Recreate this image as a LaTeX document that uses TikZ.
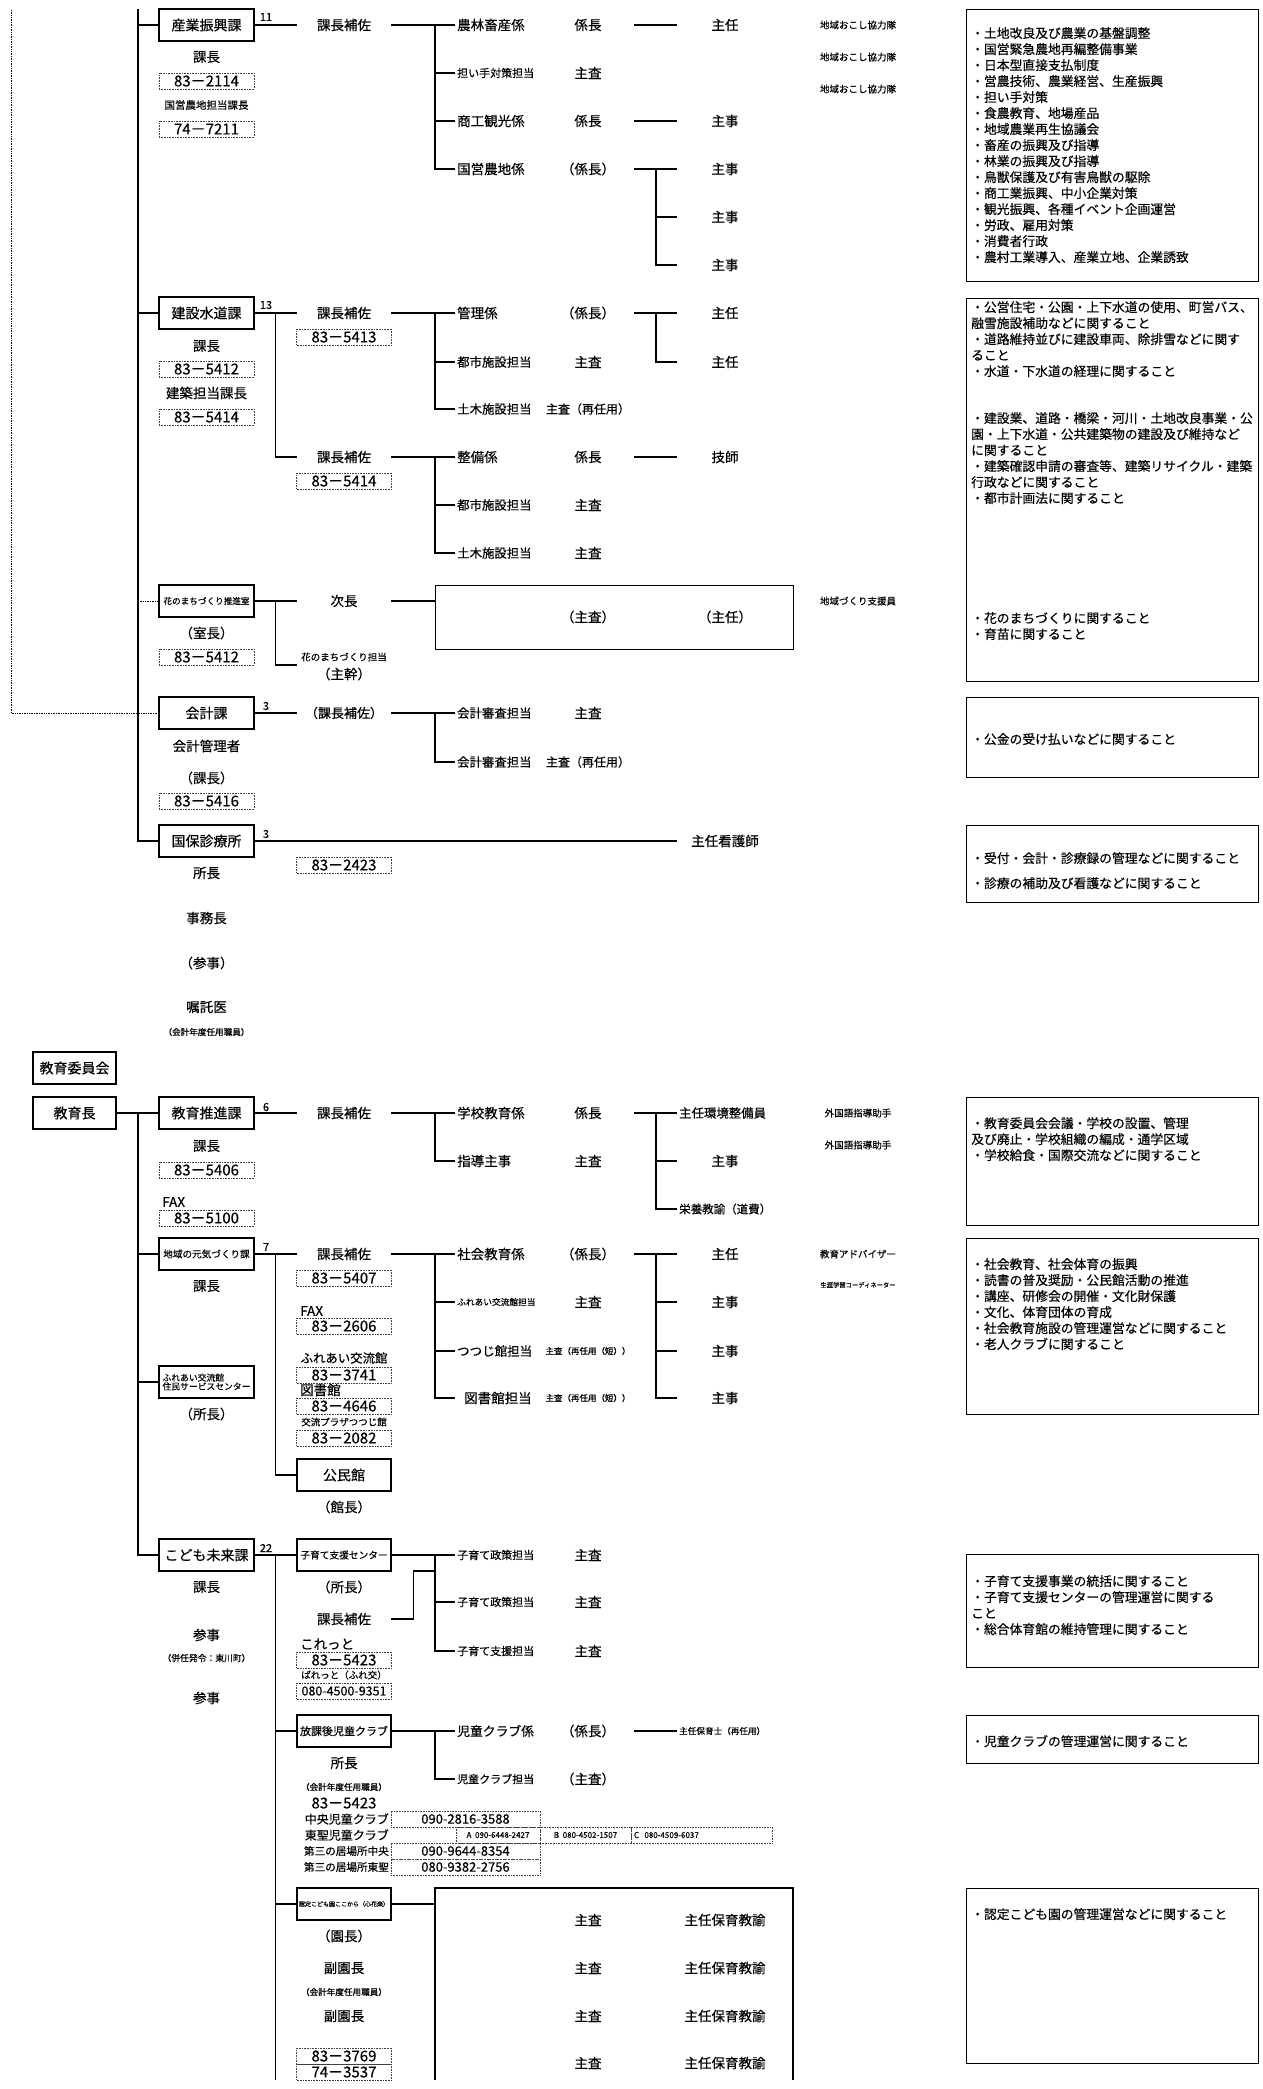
\documentclass[tikz,border=0pt]{standalone}
\usepackage{fontspec}
\setmainfont{Noto Sans CJK JP}[FakeBold=0.4]
\usetikzlibrary{positioning}
\newcommand{\fsz}[1]{\fontsize{#1}{#1}\selectfont}

\begin{document}
\begin{tikzpicture}[x=1pt, y=-1pt,
    % Node styles
    dept/.style={rectangle, draw=black, line width=1.3pt, minimum width=95pt,
                 minimum height=32pt, inner sep=1pt, font=\fsz{14}},
    postcell/.style={minimum width=94pt, minimum height=14pt, inner sep=0pt, font=\fsz{13.5}},
    tel/.style={rectangle, draw=black!75, densely dotted, line width=0.6pt,
                minimum width=95pt, minimum height=16pt, inner sep=0pt, font=\fsz{15}},
    telgrid/.style={rectangle, draw=black!75, densely dotted, line width=0.6pt,
                    minimum height=16pt, inner sep=0pt, font=\fsz{13}},
    sect/.style={anchor=west, inner sep=2pt, font=\fsz{13.5}},
    rankcell/.style={minimum width=92pt, inner sep=0pt, font=\fsz{13.5}},
    staffcell/.style={minimum width=96pt, inner sep=0pt, font=\fsz{13.5}},
    lbl/.style={inner sep=0pt, font=\fsz{13.5}},
    note/.style={inner sep=0pt, font=\fsz{9.5}},
    num/.style={inner sep=0pt, font=\fsz{11}},
    duty/.style={rectangle, draw=black, line width=1.1pt, anchor=north west, inner sep=0pt},
    dutytext/.style={anchor=north west, align=left, inner sep=0pt,
                     font=\fontsize{12.8}{16}\selectfont},
    conn/.style={line width=1.3pt},
    dotconn/.style={densely dotted, line width=0.7pt}
]
\useasboundingbox (0,0) rectangle (1263,2089);

% Trunk lines
\coordinate (topT) at (138,9);
\coordinate (topD) at (11,10);

% ---------------- 産業振興課
\node[dept] (sangyo) at (206.5,25) {産業振興課};
\node[num] (sg-num) at (266,17) {11};
\node[lbl] (sg-kacho) at (206.5,57) {課長};
\node[tel] (sg-tel1) at (206.5,81) {83－2114};
\node[note, font=\fsz{10.5}] (sg-kokuei) at (206.5,105) {国営農地担当課長};
\node[tel] (sg-tel2) at (206.5,129) {74－7211};
\node[postcell] (sg-hosa) at (344,25) {課長補佐};
\node[sect] (sg-a) at (455,25) {農林畜産係};
\node[sect, font=\fsz{11}] (sg-b) at (455,73) {担い手対策担当};
\node[sect] (sg-c) at (455,121) {商工観光係};
\node[sect] (sg-d) at (455,169) {国営農地係};
\node[rankcell] (sg-ar) at (588,25) {係長};
\node[rankcell] (sg-br) at (588,73) {主査};
\node[rankcell] (sg-cr) at (588,121) {係長};
\node[rankcell] (sg-dr) at (588,169) {（係長）};
\node[staffcell] (sg-as) at (725,25) {主任};
\node[staffcell] (sg-cs) at (725,121) {主事};
\node[staffcell] (sg-d1) at (725,169) {主事};
\node[staffcell] (sg-d2) at (725,217) {主事};
\node[staffcell] (sg-d3) at (725,265) {主事};
\node[note] (sg-n1) at (858,25) {地域おこし協力隊};
\node[note] (sg-n2) at (858,57) {地域おこし協力隊};
\node[note] (sg-n3) at (858,89) {地域おこし協力隊};
\coordinate (sg-sp) at (435,25);
\coordinate (sg-sp2) at (656,169);
\draw[conn] (sangyo.west -| topT) -- (sangyo.west);
\draw[conn] (sangyo.east) -- (sg-hosa.west);
\draw[conn] (sg-hosa.east) -- (sg-a.west);
\draw[conn] (sg-sp) |- (sg-d.west);
\draw[conn] (sg-b.west -| sg-sp) -- (sg-b.west);
\draw[conn] (sg-c.west -| sg-sp) -- (sg-c.west);
\draw[conn] (sg-ar.east) -- (sg-as.west);
\draw[conn] (sg-cr.east) -- (sg-cs.west);
\draw[conn] (sg-dr.east) -- (sg-d1.west);
\draw[conn] (sg-sp2) |- (sg-d3.west);
\draw[conn] (sg-d2.west -| sg-sp2) -- (sg-d2.west);

\node[duty, minimum width=292pt, minimum height=272pt] (duty1) at (966,9) {};
\node[dutytext] (duty1t) at (971,27) {・土地改良及び農業の基盤調整\\・国営緊急農地再編整備事業\\・日本型直接支払制度\\・営農技術、農業経営、生産振興\\・担い手対策\\・食農教育、地場産品\\・地域農業再生協議会\\・畜産の振興及び指導\\・林業の振興及び指導\\・鳥獣保護及び有害鳥獣の駆除\\・商工業振興、中小企業対策\\・観光振興、各種イベント企画運営\\・労政、雇用対策\\・消費者行政\\・農村工業導入、産業立地、企業誘致};

% ---------------- 建設水道課
\node[dept] (kensetsu) at (206.5,313) {建設水道課};
\node[num] (ks-num) at (266,305) {13};
\node[lbl] (ks-kacho) at (206.5,346) {課長};
\node[tel] (ks-tel1) at (206.5,369) {83－5412};
\node[lbl] (ks-kenchiku) at (206.5,393) {建築担当課長};
\node[tel] (ks-tel2) at (206.5,417) {83－5414};
\node[postcell] (ks-hosa1) at (344,313) {課長補佐};
\node[tel] (ks-tel3) at (344,337) {83－5413};
\node[sect] (ks-a) at (455,313) {管理係};
\node[sect, font=\fsz{12.4}] (ks-b) at (455,362) {都市施設担当};
\node[sect, font=\fsz{12.4}] (ks-c) at (455,409) {土木施設担当};
\node[rankcell] (ks-ar) at (588,313) {（係長）};
\node[rankcell] (ks-br) at (588,362) {主査};
\node[rankcell, font=\fsz{12}] (ks-cr) at (588,409) {主査（再任用）};
\node[staffcell] (ks-as) at (725,313) {主任};
\node[staffcell] (ks-bs) at (725,362) {主任};
\node[postcell] (ks-hosa2) at (344,457) {課長補佐};
\node[tel] (ks-tel4) at (344,481) {83－5414};
\node[sect] (ks-d) at (455,457) {整備係};
\node[sect, font=\fsz{12.4}] (ks-e) at (455,505) {都市施設担当};
\node[sect, font=\fsz{12.4}] (ks-f) at (455,553) {土木施設担当};
\node[rankcell] (ks-dr) at (588,457) {係長};
\node[rankcell] (ks-er) at (588,505) {主査};
\node[rankcell] (ks-fr) at (588,553) {主査};
\node[staffcell] (ks-ds) at (725,457) {技師};
\coordinate (ks-sub) at (275.5,313);
\coordinate (ks-sp) at (435,313);
\coordinate (ks-sp2) at (656,313);
\coordinate (ks-sp3) at (435,457);
\draw[conn] (kensetsu.west -| topT) -- (kensetsu.west);
\draw[conn] (kensetsu.east) -- (ks-hosa1.west);
\draw[conn] (ks-sub) |- (ks-hosa2.west);
\draw[conn] (ks-hosa1.east) -- (ks-a.west);
\draw[conn] (ks-sp) |- (ks-c.west);
\draw[conn] (ks-b.west -| ks-sp) -- (ks-b.west);
\draw[conn] (ks-ar.east) -- (ks-as.west);
\draw[conn] (ks-sp2) |- (ks-bs.west);
\draw[conn] (ks-hosa2.east) -- (ks-d.west);
\draw[conn] (ks-sp3) |- (ks-f.west);
\draw[conn] (ks-e.west -| ks-sp3) -- (ks-e.west);
\draw[conn] (ks-dr.east) -- (ks-ds.west);

% ---------------- 花のまちづくり推進室
\node[dept, font=\fsz{8.6}] (hana) at (206.5,601) {花のまちづくり推進室};
\node[lbl] (hn-shitsucho) at (206.5,633) {（室長）};
\node[tel] (hn-tel) at (206.5,657) {83－5412};
\node[postcell] (hn-jicho) at (344,601) {次長};
\node[note] (hn-tanto) at (344,657) {花のまちづくり担当};
\node[postcell] (hn-shukan) at (344,674) {（主幹）};
\node[rectangle, draw=black, line width=1.3pt, minimum width=358pt, minimum height=64pt,
      anchor=north west, inner sep=0pt] (hn-box) at (435,585) {};
\node[rankcell] (hn-r) at (588,617) {（主査）};
\node[staffcell] (hn-s) at (725,617) {（主任）};
\node[note] (hn-n) at (858,601) {地域づくり支援員};
\coordinate (hn-sub) at (275.5,601);
\coordinate (hn-end) at (297,665);
\draw[dotconn] (hana.west -| topT) -- (hana.west);
\draw[conn] (hana.east) -- (hn-jicho.west);
\draw[conn] (hn-sub) |- (hn-end);
\draw[conn] (hn-jicho.east) -- (hn-jicho.east -| hn-box.west);

\node[duty, minimum width=292pt, minimum height=383pt] (duty2) at (966,298) {};
\node[dutytext] (duty2a) at (971,301) {・公営住宅・公園・上下水道の使用、町営バス、\\融雪施設補助などに関すること\\・道路維持並びに建設車両、除排雪などに関す\\ること\\・水道・下水道の経理に関すること};
\node[dutytext] (duty2b) at (971,412) {・建設業、道路・橋梁・河川・土地改良事業・公\\園・上下水道・公共建築物の建設及び維持など\\に関すること\\・建築確認申請の審査等、建築リサイクル・建築\\行政などに関すること\\・都市計画法に関すること};
\node[dutytext] (duty2c) at (971,612) {・花のまちづくりに関すること\\・育苗に関すること};

% ---------------- 会計課
\node[dept] (kaikei) at (206.5,713) {会計課};
\node[num] (kk-num) at (266,706) {3};
\node[lbl] (kk-kanri) at (206.5,746) {会計管理者};
\node[lbl] (kk-kacho) at (206.5,778) {（課長）};
\node[tel] (kk-tel) at (206.5,801) {83－5416};
\node[postcell, font=\fsz{13}] (kk-hosa) at (344,713) {（課長補佐）};
\node[sect, font=\fsz{12.4}] (kk-a) at (455,713) {会計審査担当};
\node[sect, font=\fsz{12.4}] (kk-b) at (455,762) {会計審査担当};
\node[rankcell] (kk-ar) at (588,713) {主査};
\node[rankcell, font=\fsz{12}] (kk-br) at (588,762) {主査（再任用）};
\coordinate (kk-sp) at (435,713);
\draw[dotconn] (topD) |- (kaikei.west);
\draw[conn] (kaikei.east) -- (kk-hosa.west);
\draw[conn] (kk-hosa.east) -- (kk-a.west);
\draw[conn] (kk-sp) |- (kk-b.west);

\node[duty, minimum width=292pt, minimum height=80pt] (duty3) at (966,697) {};
\node[dutytext] (duty3t) at (971,733) {・公金の受け払いなどに関すること};

% ---------------- 国保診療所
\node[dept] (kokuho) at (206.5,841) {国保診療所};
\node[num] (kh-num) at (266,834) {3};
\node[lbl] (kh-shocho) at (206.5,873) {所長};
\node[lbl] (kh-jimu) at (206.5,918) {事務長};
\node[lbl] (kh-sanji) at (206.5,963) {（参事）};
\node[lbl] (kh-ishi) at (206.5,1007) {嘱託医};
\node[note, font=\fsz{8.6}] (kh-kaikei) at (206.5,1032) {（会計年度任用職員）};
\node[tel] (kh-tel) at (344,865) {83－2423};
\node[staffcell] (kh-kango) at (725,841) {主任看護師};
\draw[conn] (topT) |- (kokuho.west);
\draw[conn] (kokuho.east) -- (kh-kango.west);

\node[duty, minimum width=292pt, minimum height=77pt] (duty4) at (966,825) {};
\node[dutytext] (duty4t) at (971,852) {・受付・会計・診療録の管理などに関すること\\[9pt]・診療の補助及び看護などに関すること};

% ---------------- 教育委員会
\node[dept, minimum width=83pt] (iinkai) at (74.5,1068) {教育委員会};
\node[dept, minimum width=83pt] (kyoikucho) at (74.5,1113) {教育長};
\coordinate (edT) at (138,1113);

% ---------------- 教育推進課
\node[dept] (suishin) at (206.5,1113) {教育推進課};
\node[num] (es-num) at (266,1107) {6};
\node[lbl] (es-kacho) at (206.5,1146) {課長};
\node[tel] (es-tel1) at (206.5,1170) {83－5406};
\node[lbl, anchor=west] (es-fax) at (162,1202) {FAX};
\node[tel] (es-tel2) at (206.5,1218) {83－5100};
\node[postcell] (es-hosa) at (344,1113) {課長補佐};
\node[sect] (es-a) at (455,1113) {学校教育係};
\node[sect] (es-b) at (455,1161) {指導主事};
\node[rankcell] (es-ar) at (588,1113) {係長};
\node[rankcell] (es-br) at (588,1161) {主査};
\node[sect, font=\fsz{12.4}] (es-env) at (677,1113) {主任環境整備員};
\node[staffcell] (es-shuji) at (725,1161) {主事};
\node[sect, font=\fsz{11.5}] (es-eiyo) at (677,1209) {栄養教諭（道費）};
\node[note] (es-n1) at (858,1113) {外国語指導助手};
\node[note] (es-n2) at (858,1145) {外国語指導助手};
\coordinate (es-sp) at (435,1113);
\coordinate (es-sp2) at (656,1113);
\draw[conn] (kyoikucho.east) -- (suishin.west);
\draw[conn] (suishin.east) -- (es-hosa.west);
\draw[conn] (es-hosa.east) -- (es-a.west);
\draw[conn] (es-sp) |- (es-b.west);
\draw[conn] (es-ar.east) -- (es-env.west);
\draw[conn] (es-sp2) |- (es-eiyo.west);
\draw[conn] (es-shuji.west -| es-sp2) -- (es-shuji.west);

\node[duty, minimum width=292pt, minimum height=128pt] (duty5) at (966,1097) {};
\node[dutytext] (duty5t) at (971,1117) {・教育委員会会議・学校の設置、管理\\及び廃止・学校組織の編成・通学区域\\・学校給食・国際交流などに関すること};

% ---------------- 地域の元気づくり課
\node[dept, font=\fsz{9.6}] (genki) at (206.5,1254) {地域の元気づくり課};
\node[num] (gk-num) at (266,1247) {7};
\node[lbl] (gk-kacho) at (206.5,1286) {課長};
\node[postcell] (gk-hosa) at (344,1254) {課長補佐};
\node[tel] (gk-tel1) at (344,1278) {83－5407};
\node[lbl, anchor=west] (gk-fax) at (300,1311) {FAX};
\node[tel] (gk-tel2) at (344,1326) {83－2606};
\node[lbl, font=\fsz{12.4}] (gk-fureai) at (344,1358) {ふれあい交流館};
\node[tel] (gk-tel3) at (344,1375) {83－3741};
\node[lbl, anchor=west] (gk-tosho) at (300,1390) {図書館};
\node[tel] (gk-tel4) at (344,1406) {83－4646};
\node[note] (gk-plaza) at (344,1422) {交流プラザつつじ館};
\node[tel] (gk-tel5) at (344,1438) {83－2082};
\node[dept, minimum width=94pt] (kominkan) at (344,1475) {公民館};
\node[lbl] (gk-kancho) at (344,1507) {（館長）};
\node[sect] (gk-a) at (455,1254) {社会教育係};
\node[sect, font=\fsz{8.7}] (gk-b) at (455,1302) {ふれあい交流館担当};
\node[sect, font=\fsz{12.5}] (gk-c) at (455,1351) {つつじ館担当};
\node[sect, font=\fsz{13.5}, inner xsep=9pt] (gk-d) at (455,1398) {図書館担当};
\node[rankcell] (gk-ar) at (588,1254) {（係長）};
\node[rankcell] (gk-br) at (588,1302) {主査};
\node[rankcell, font=\fsz{8.5}] (gk-cr) at (588,1351) {主査（再任用（短））};
\node[rankcell, font=\fsz{8.5}] (gk-dr) at (588,1398) {主査（再任用（短））};
\node[staffcell] (gk-as) at (725,1254) {主任};
\node[staffcell] (gk-bs) at (725,1302) {主事};
\node[staffcell] (gk-cs) at (725,1351) {主事};
\node[staffcell] (gk-ds) at (725,1398) {主事};
\node[note] (gk-n1) at (858,1254) {教育アドバイザー};
\node[note, font=\fsz{6.3}] (gk-n2) at (858,1285) {生涯学習コーディネーター};
\coordinate (gk-sub) at (275.5,1254);
\coordinate (gk-sp) at (435,1254);
\coordinate (gk-sp2) at (656,1254);
\draw[conn] (genki.west -| edT) -- (genki.west);
\draw[conn] (genki.east) -- (gk-hosa.west);
\draw[conn] (gk-sub) |- (kominkan.west);
\draw[conn] (gk-hosa.east) -- (gk-a.west);
\draw[conn] (gk-sp) |- (gk-d.west);
\draw[conn] (gk-b.west -| gk-sp) -- (gk-b.west);
\draw[conn] (gk-c.west -| gk-sp) -- (gk-c.west);
\draw[conn] (gk-ar.east) -- (gk-as.west);
\draw[conn] (gk-sp2) |- (gk-ds.west);
\draw[conn] (gk-bs.west -| gk-sp2) -- (gk-bs.west);
\draw[conn] (gk-cs.west -| gk-sp2) -- (gk-cs.west);

% ふれあい交流館住民サービスセンター
\node[dept, font=\fsz{8.8}, align=left] (fsc) at (206.5,1382) {ふれあい交流館\\住民サービスセンター};
\node[lbl] (fsc-shocho) at (206.5,1414) {（所長）};
\draw[conn] (fsc.west -| edT) -- (fsc.west);

\node[duty, minimum width=292pt, minimum height=176pt] (duty6) at (966,1238) {};
\node[dutytext] (duty6t) at (971,1258) {・社会教育、社会体育の振興\\・読書の普及奨励・公民館活動の推進\\・講座、研修会の開催・文化財保護\\・文化、体育団体の育成\\・社会教育施設の管理運営などに関すること\\・老人クラブに関すること};

% ---------------- こども未来課
\node[dept] (kodomo) at (206.5,1555) {こども未来課};
\node[num] (kd-num) at (266,1548) {22};
\node[lbl] (kd-kacho) at (206.5,1587) {課長};
\node[lbl] (kd-sanji1) at (206.5,1635) {参事};
\node[note, font=\fsz{8.8}] (kd-heinin) at (206.5,1658) {（併任発令：東川町）};
\node[lbl] (kd-sanji2) at (206.5,1698) {参事};
\draw[conn] (edT) |- (kodomo.west);

% 子育て支援センター
\node[dept, minimum width=94pt, font=\fsz{9.7}] (kosodate) at (344,1555) {子育て支援センター};
\node[lbl] (kc-shocho) at (344,1587) {（所長）};
\node[postcell] (kc-hosa) at (344,1619) {課長補佐};
\node[lbl, anchor=west] (kc-koretto) at (300,1644) {これっと};
\node[tel] (kc-tel1) at (344,1660) {83－5423};
\node[lbl, font=\fsz{9.5}] (kc-paretto) at (344,1675) {ぱれっと（ふれ交）};
\node[tel, font=\fsz{12.5}] (kc-tel2) at (344,1691) {080-4500-9351};
\node[sect, font=\fsz{11}] (kc-a) at (455,1555) {子育て政策担当};
\node[sect, font=\fsz{11}] (kc-b) at (455,1602) {子育て政策担当};
\node[sect, font=\fsz{11}] (kc-c) at (455,1651) {子育て支援担当};
\node[rankcell] (kc-ar) at (588,1555) {主査};
\node[rankcell] (kc-br) at (588,1602) {主査};
\node[rankcell] (kc-cr) at (588,1651) {主査};
\coordinate (kd-sub) at (275.5,1555);
\coordinate (kd-bot) at (275.5,2080);
\coordinate (kc-sp) at (435,1555);
\coordinate (kc-join) at (435,1571);
\draw[conn] (kd-sub) -- (kd-bot);
\draw[conn] (kodomo.east) -- (kosodate.west);
\draw[conn] (kosodate.east) -- (kc-a.west);
\draw[conn] (kc-sp) |- (kc-c.west);
\draw[conn] (kc-b.west -| kc-sp) -- (kc-b.west);
\draw[conn] (kc-hosa.east) -- ++(22,0) |- (kc-join);

\node[duty, minimum width=292pt, minimum height=113pt] (duty7) at (966,1554) {};
\node[dutytext] (duty7t) at (971,1575) {・子育て支援事業の統括に関すること\\・子育て支援センターの管理運営に関する\\こと\\・総合体育館の維持管理に関すること};

% 放課後児童クラブ
\node[dept, minimum width=94pt, font=\fsz{11}] (houkago) at (344,1731) {放課後児童クラブ};
\node[lbl] (hk-shocho) at (344,1763) {所長};
\node[note, font=\fsz{8.6}] (hk-kaikei) at (344,1787) {（会計年度任用職員）};
\node[lbl, font=\fsz{15}] (hk-tel) at (344,1803) {83－5423};
\node[sect, font=\fsz{12.8}] (hk-a) at (455,1731) {児童クラブ係};
\node[sect, font=\fsz{11}] (hk-b) at (455,1779) {児童クラブ担当};
\node[rankcell] (hk-ar) at (588,1731) {（係長）};
\node[rankcell] (hk-br) at (588,1779) {（主査）};
\node[sect, font=\fsz{8.6}] (hk-hoiku) at (677,1731) {主任保育士（再任用）};
\coordinate (hk-sp) at (435,1731);
\draw[conn] (houkago.west -| kd-sub) -- (houkago.west);
\draw[conn] (houkago.east) -- (hk-a.west);
\draw[conn] (hk-sp) |- (hk-b.west);
\draw[conn] (hk-ar.east) -- (hk-hoiku.west);

% phone table
\node[lbl, font=\fsz{12}, anchor=east] (pt-chuo) at (389,1819) {中央児童クラブ};
\node[lbl, font=\fsz{12}, anchor=east] (pt-tosei) at (389,1835) {東聖児童クラブ};
\node[lbl, font=\fsz{10.6}, anchor=east] (pt-ibasho1) at (389,1851) {第三の居場所中央};
\node[lbl, font=\fsz{10.6}, anchor=east] (pt-ibasho2) at (389,1867) {第三の居場所東聖};
\node[telgrid, minimum width=149pt] (pt-t1) at (465.5,1819) {090-2816-3588};
\node[telgrid, minimum width=84pt, font=\fsz{8}] (pt-ta) at (498,1835) {A\ \ 090-6448-2427};
\node[telgrid, minimum width=91pt, font=\fsz{8}] (pt-tb) at (585.5,1835) {B\ \ 080-4502-1507};
\node[telgrid, inner xsep=3pt, text width=135pt, align=left, font=\fsz{8}] (pt-tc) at (701.5,1835) {C\ \ 080-4509-6037};
\node[telgrid, minimum width=149pt] (pt-t3) at (465.5,1851) {090-9644-8354};
\node[telgrid, minimum width=149pt] (pt-t4) at (465.5,1867) {080-9382-2756};

\node[duty, minimum width=292pt, minimum height=48pt] (duty8) at (966,1715) {};
\node[dutytext] (duty8t) at (971,1735) {・児童クラブの管理運営に関すること};

% 認定こども園
\node[dept, minimum width=94pt, font=\fsz{6}] (nintei) at (344,1904) {認定こども園ここから（心花楽）};
\node[lbl] (nt-encho) at (344,1936) {（園長）};
\node[lbl] (nt-fuku1) at (344,1968) {副園長};
\node[note, font=\fsz{8.6}] (nt-kaikei) at (344,1992) {（会計年度任用職員）};
\node[lbl] (nt-fuku2) at (344,2016) {副園長};
\node[tel] (nt-tel1) at (344,2056) {83－3769};
\node[tel] (nt-tel2) at (344,2072) {74－3537};
\coordinate (nt-box) at (435,1904);
\draw[conn] (nintei.west -| kd-sub) -- (nintei.west);
\draw[conn] (nintei.east) -- (nt-box);
\draw[conn] (435,2080) -- (435,1888) -- (793,1888) -- (793,2080);
\node[rankcell] (nt-r1) at (588,1920) {主査};
\node[rankcell] (nt-r2) at (588,1968) {主査};
\node[rankcell] (nt-r3) at (588,2016) {主査};
\node[rankcell] (nt-r4) at (588,2063) {主査};
\node[staffcell] (nt-s1) at (725,1920) {主任保育教諭};
\node[staffcell] (nt-s2) at (725,1968) {主任保育教諭};
\node[staffcell] (nt-s3) at (725,2016) {主任保育教諭};
\node[staffcell] (nt-s4) at (725,2063) {主任保育教諭};

\node[duty, minimum width=292pt, minimum height=175pt] (duty9) at (966,1888) {};
\node[dutytext] (duty9t) at (971,1908) {・認定こども園の管理運営などに関すること};

\end{tikzpicture}
\end{document}
